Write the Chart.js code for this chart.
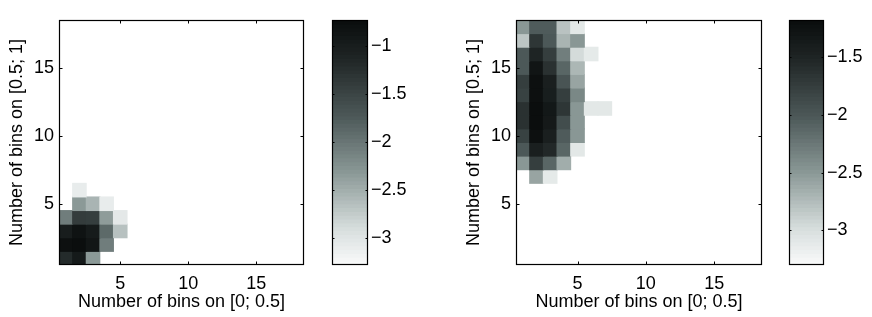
<!DOCTYPE html>
<html><head><meta charset="utf-8">
<script src="https://cdn.jsdelivr.net/npm/chart.js@4.4.1/dist/chart.umd.min.js"></script>
<style>
html,body{margin:0;padding:0;background:#fff;}
body{width:872px;height:317px;position:relative;overflow:hidden;}
canvas{position:absolute;top:0;}
</style></head>
<body>
<canvas id="heatL" width="330" height="317" style="left:0px"></canvas>
<canvas id="barL" width="80" height="317" style="left:330px"></canvas>
<canvas id="heatR" width="330" height="317" style="left:457px"></canvas>
<canvas id="barR" width="85" height="317" style="left:787px"></canvas>
<script>
// ---- data (log values), rows = bins on [0.5;1], columns = bins on [0;0.5] ----
const leftRowStart = 1;   // first row index (y)
const leftColStart = 1;   // first column index (x)
const leftGrid = [
  [-1.19, -0.94, -2.32, null, null],   // y = 1
  [-0.78, -0.74, -0.88, -2.07, null],  // y = 2
  [-0.99, -0.83, -0.96, -1.89, -2.66], // y = 3
  [-2.07, -1.40, -1.42, -2.35, -3.04], // y = 4
  [null, -2.32, -2.55, -3.09, null],   // y = 5
  [null, -3.09, null, null, null]      // y = 6
];
const rightRowStart = 7;
const rightColStart = 1;
const rightGrid = [
  [null, -2.58, -3.11, null, null, null, null],       // y = 7
  [-2.49, -1.75, -2.11, -2.64, null, null, null],     // y = 8
  [-2.01, -1.43, -1.54, -2.11, -3.09, null, null],    // y = 9
  [-1.79, -1.22, -1.43, -2.03, -2.49, null, null],    // y = 10
  [-1.63, -1.19, -1.35, -1.90, -2.49, null, null],    // y = 11
  [-1.63, -1.19, -1.33, -1.67, -2.49, -3.09, -3.09],  // y = 12
  [-1.79, -1.22, -1.41, -1.75, -2.37, null, null],    // y = 13
  [-1.75, -1.22, -1.43, -1.97, -2.58, null, null],    // y = 14
  [-2.01, -1.29, -1.63, -2.11, -2.71, null, null],    // y = 15
  [-2.01, -1.50, -1.75, -2.30, -2.96, -3.11, null],   // y = 16
  [-2.81, -1.67, -2.01, -2.69, -2.49, null, null],    // y = 17
  [-2.49, -2.03, -2.03, -2.79, -3.09, null, null]     // y = 18
];
const leftRange = [-3.285, -0.73];
const rightRange = [-3.30, -1.18];
const axisTicks = [5, 10, 15];
const leftBarTicks = [-3, -2.5, -2, -1.5, -1];
const rightBarTicks = [-3, -2.5, -2, -1.5];
const xTitle = 'Number of bins on [0; 0.5]';
const yTitle = 'Number of bins on [0.5; 1]';

// ---- colour map ----
const cmapStops = [[0,[250,251,251]],[0.15,[215,222,221]],[0.38,[138,152,150]],[0.61,[76,88,88]],[0.85,[30,36,36]],[1,[10,13,13]]];
function cmap(t){
  t = Math.max(0, Math.min(1, t));
  for (let i = 1; i < cmapStops.length; i++) {
    const [t1, c1] = cmapStops[i], [t0, c0] = cmapStops[i-1];
    if (t <= t1) {
      const f = (t - t0) / (t1 - t0);
      return 'rgb(' + c0.map((c, k) => Math.round(c + (c1[k] - c) * f)).join(',') + ')';
    }
  }
  return 'rgb(10,13,13)';
}

const FONT = {family: '"Liberation Sans", Arial, Helvetica, sans-serif', size: 18};
const minus = v => (v < 0 ? '\u2212' : '') + Math.abs(v);

// frame + inward ticks
const framePlugin = {
  id: 'frame',
  afterDraw(chart, args, opts) {
    const {ctx, chartArea: a} = chart;
    const L = Math.round(a.left) + 0.5, R = Math.round(a.right) - 0.5;
    const T = Math.round(a.top) + 0.5, B = Math.round(a.bottom) - 0.5;
    ctx.save();
    ctx.strokeStyle = '#000';
    ctx.lineWidth = 1;
    ctx.beginPath();
    const tl = opts.tickLen || 3;
    if (opts.xTicks) {
      const xs = chart.scales.x;
      xs.ticks.forEach(t => {
        const p = Math.round(xs.getPixelForValue(t.value)) + 0.5;
        ctx.moveTo(p, B); ctx.lineTo(p, B - tl);
        ctx.moveTo(p, T); ctx.lineTo(p, T + tl);
      });
    }
    const ys = chart.scales.y;
    ys.ticks.forEach(t => {
      const p = Math.round(ys.getPixelForValue(t.value)) + 0.5;
      ctx.moveTo(L, p); ctx.lineTo(L + tl, p);
      ctx.moveTo(R, p); ctx.lineTo(R - tl, p);
    });
    ctx.stroke();
    ctx.lineWidth = 1.2;
    ctx.strokeRect(L, T, R - L, B - T);
    ctx.restore();
  }
};

function heatChart(id, grid, rowStart, colStart, range, padRight) {
  const data = [];
  grid.forEach((row, r) => row.forEach((v, c) => {
    if (v !== null) data.push({x: colStart + c, y: [rowStart + r - 0.5, rowStart + r + 0.5], v: v});
  }));
  new Chart(document.getElementById(id), {
    type: 'bar',
    data: {datasets: [{
      data: data,
      backgroundColor: ctx => ctx.raw ? cmap((ctx.raw.v - range[0]) / (range[1] - range[0])) : '#fff',
      borderWidth: 0, inflateAmount: 0.5,
      barPercentage: 1, categoryPercentage: 1, grouped: false
    }]},
    options: {
      responsive: false, animation: false, events: [], devicePixelRatio: 1,
      layout: {padding: {top: 20, right: padRight, left: 0, bottom: 0}},
      plugins: {legend: {display: false}, tooltip: {enabled: false}, frame: {xTicks: true, tickLen: 3}},
      scales: {
        x: {
          type: 'linear', min: 0.5, max: 18.5, offset: false,
          grid: {display: false, drawTicks: false}, border: {display: false},
          afterBuildTicks: s => { s.ticks = axisTicks.map(v => ({value: v})); },
          ticks: {font: FONT, color: '#000', padding: 8, maxRotation: 0},
          title: {display: true, text: xTitle, font: FONT, color: '#000', padding: {top: 0, bottom: 4}},
          afterFit: s => { s.height = 52; }
        },
        y: {
          type: 'linear', min: 0.5, max: 18.5,
          grid: {display: false, drawTicks: false}, border: {display: false},
          afterBuildTicks: s => { s.ticks = axisTicks.map(v => ({value: v})); },
          ticks: {font: FONT, color: '#000', padding: 5},
          title: {display: true, text: yTitle, font: FONT, color: '#000', padding: {top: 6, bottom: 0}},
          afterFit: s => { s.width = 59; }
        }
      }
    },
    plugins: [framePlugin]
  });
}

function colorBar(id, range, ticks, axisWidth) {
  const N = 64, data = [];
  const step = (range[1] - range[0]) / N;
  for (let i = 0; i < N; i++) {
    data.push({x: 0, y: [range[0] + i * step, range[0] + (i + 1) * step], t: (i + 0.5) / N});
  }
  new Chart(document.getElementById(id), {
    type: 'bar',
    data: {datasets: [{
      data: data,
      backgroundColor: ctx => ctx.raw ? cmap(ctx.raw.t) : '#fff',
      borderWidth: 0, inflateAmount: 0.5,
      barPercentage: 1, categoryPercentage: 1, grouped: false
    }]},
    options: {
      responsive: false, animation: false, events: [], devicePixelRatio: 1,
      layout: {padding: {top: 20, right: 0, left: 2, bottom: 52}},
      plugins: {legend: {display: false}, tooltip: {enabled: false}, frame: {xTicks: false, tickLen: 2}},
      scales: {
        x: {type: 'linear', min: -0.5, max: 0.5, display: false, offset: false,
            afterBuildTicks: s => { s.ticks = []; }},
        y: {
          type: 'linear', position: 'right', min: range[0], max: range[1],
          grid: {display: false, drawTicks: false}, border: {display: false},
          afterBuildTicks: s => { s.ticks = ticks.map(v => ({value: v})); },
          ticks: {font: FONT, color: '#000', padding: 3, callback: v => minus(v)},
          afterFit: s => { s.width = axisWidth; }
        }
      }
    },
    plugins: [framePlugin]
  });
}

heatChart('heatL', leftGrid, leftRowStart, leftColStart, leftRange, 26);
colorBar('barL', leftRange, leftBarTicks, 42);
heatChart('heatR', rightGrid, rightRowStart, rightColStart, rightRange, 25);
colorBar('barR', rightRange, rightBarTicks, 48);
</script>
</body></html>
